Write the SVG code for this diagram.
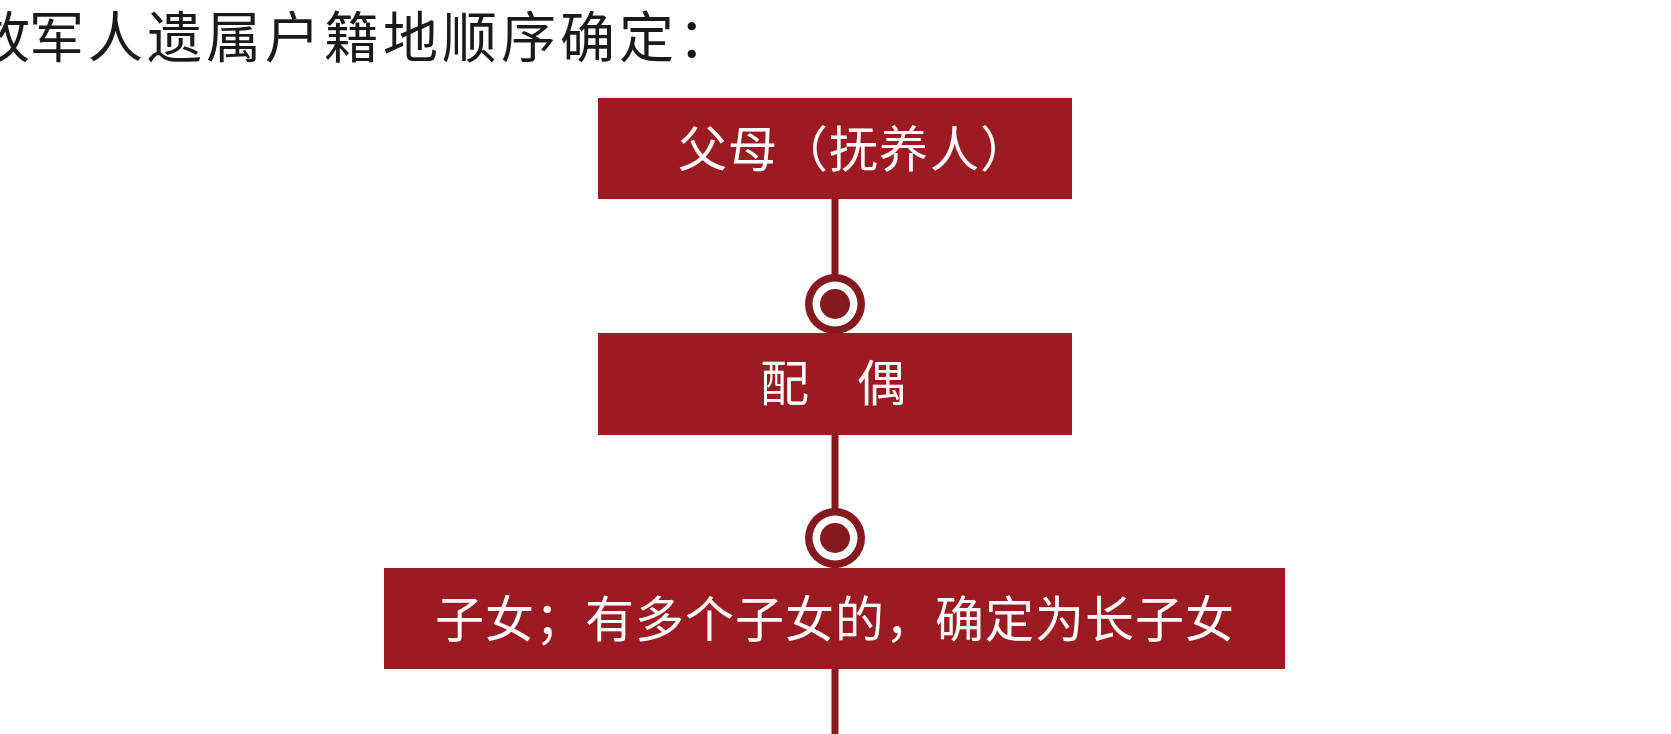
<svg xmlns="http://www.w3.org/2000/svg" width="1671" height="734" viewBox="0 0 1671 734">
<style>
.box{fill:#9c1b22}
.lbl{fill:#fff;font-family:"Noto Sans CJK SC","Noto Sans CJK JP",sans-serif;font-size:49px}
.title{fill:#1a1a1a;font-family:"Noto Sans CJK SC","Noto Sans CJK JP",sans-serif;font-size:55px;font-weight:400}
.wire{stroke:#841a20;stroke-width:7;fill:none}
.ring{fill:#841a20}
.hole{fill:#fff}
</style>
<rect width="1671" height="734" fill="#fff"/>
<text class="title" y="57" x="-25 29 88 147 206 265 324 383 442 501 560 619 678">故军人遗属户籍地顺序确定：</text>
<g id="connectors">
<line class="wire" x1="835" y1="199" x2="835" y2="333"/>
<line class="wire" x1="835" y1="435" x2="835" y2="568"/>
<line class="wire" x1="835" y1="669" x2="835" y2="734"/>
<circle class="ring" cx="835" cy="304" r="30"/>
<circle class="hole" cx="835" cy="304" r="22.5"/>
<circle class="ring" cx="835" cy="304" r="15"/>
<circle class="ring" cx="835" cy="538" r="30"/>
<circle class="hole" cx="835" cy="538" r="22.5"/>
<circle class="ring" cx="835" cy="538" r="15"/>
</g>
<g id="n1">
<rect class="box" x="598" y="98" width="474" height="101"/>
<text class="lbl" y="167" x="678 728 779 829 879 930 980">父母（抚养人）</text>
</g>
<g id="n2">
<rect class="box" x="598" y="333" width="474" height="102"/>
<text class="lbl" y="401" x="760 808 857">配　偶</text>
</g>
<g id="n3">
<rect class="box" x="384" y="568" width="901" height="101"/>
<text class="lbl" y="637" x="435 485 535 585 635 685 735 785 835 885 935 985 1035 1085 1135 1185">子女；有多个子女的，确定为长子女</text>
</g>
</svg>
